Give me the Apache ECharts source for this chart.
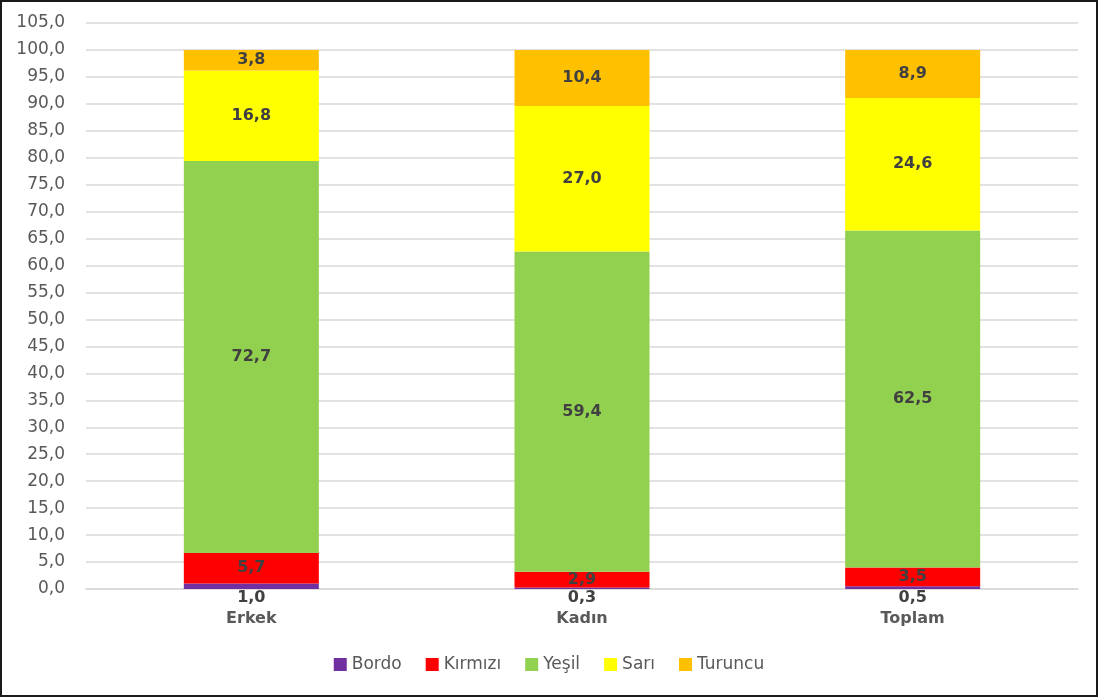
<!DOCTYPE html>
<html>
<head>
<meta charset="utf-8">
<script src="https://cdn.jsdelivr.net/npm/echarts@6/dist/echarts.min.js"></script>
<style>
  html, body { margin: 0; padding: 0; background: #fff; }
  #frame { width: 1098px; height: 697px; box-sizing: border-box; border: 2px solid #1a1a1a; background: #fff; }
  #chart { width: 1094px; height: 693px; }
</style>
</head>
<body>
<div id="frame"><div id="chart"></div></div>
<script>
// Risk groups by gender (percent, each column sums to 100)
const categories = ['Erkek', 'Kadın', 'Toplam'];
const bordo   = [1.0, 0.3, 0.5];
const kirmizi = [5.7, 2.9, 3.5];
const yesil   = [72.7, 59.4, 62.5];
const sari    = [16.8, 27.0, 24.6];
const turuncu = [3.8, 10.4, 8.9];

const seriesNames = ['Bordo', 'Kırmızı', 'Yeşil', 'Sarı', 'Turuncu'];
const seriesValues = [bordo, kirmizi, yesil, sari, turuncu];
const seriesColors = ['#7030A0', '#FF0000', '#92D050', '#FFFF00', '#FFC000'];

const fmt = v => v.toFixed(1).replace('.', ',');
const FONT = 'DejaVu Sans';

const series = seriesNames.map((name, i) => ({
  name,
  type: 'bar',
  stack: 'total',
  barWidth: 135,
  data: seriesValues[i],
  itemStyle: { color: seriesColors[i] },
  label: {
    show: true,
    position: i === 0 ? 'bottom' : 'inside',
    distance: i === 0 ? 1 : 5,
    formatter: p => fmt(p.value),
    color: '#404040',
    fontFamily: FONT,
    fontWeight: 'bold',
    fontSize: 16
  }
}));

const chart = echarts.init(document.getElementById('chart'), null, { renderer: 'canvas' });
chart.setOption({
  animation: false,
  grid: { left: 84, right: 18, top: 21, bottom: 106 },
  legend: {
    data: seriesNames,
    bottom: 17,
    left: 'center',
    itemWidth: 13,
    itemHeight: 13,
    itemGap: 24,
    icon: 'rect',
    textStyle: { color: '#595959', fontFamily: FONT, fontSize: 17, padding: [0, 0, 0, 0] }
  },
  xAxis: {
    type: 'category',
    data: categories,
    axisLine: { lineStyle: { color: '#d9d9d9', width: 1.5 } },
    axisTick: { show: false },
    axisLabel: {
      color: '#595959',
      fontFamily: FONT,
      fontWeight: 'bold',
      fontSize: 16,
      margin: 22
    }
  },
  yAxis: {
    type: 'value',
    min: 0,
    max: 105,
    interval: 5,
    axisLine: { show: false },
    axisTick: { show: false },
    splitLine: { lineStyle: { color: '#d9d9d9', width: 1.5 } },
    axisLabel: {
      color: '#595959',
      fontFamily: FONT,
      fontSize: 17,
      margin: 21,
      formatter: v => fmt(v)
    }
  },
  series
});
</script>
</body>
</html>
